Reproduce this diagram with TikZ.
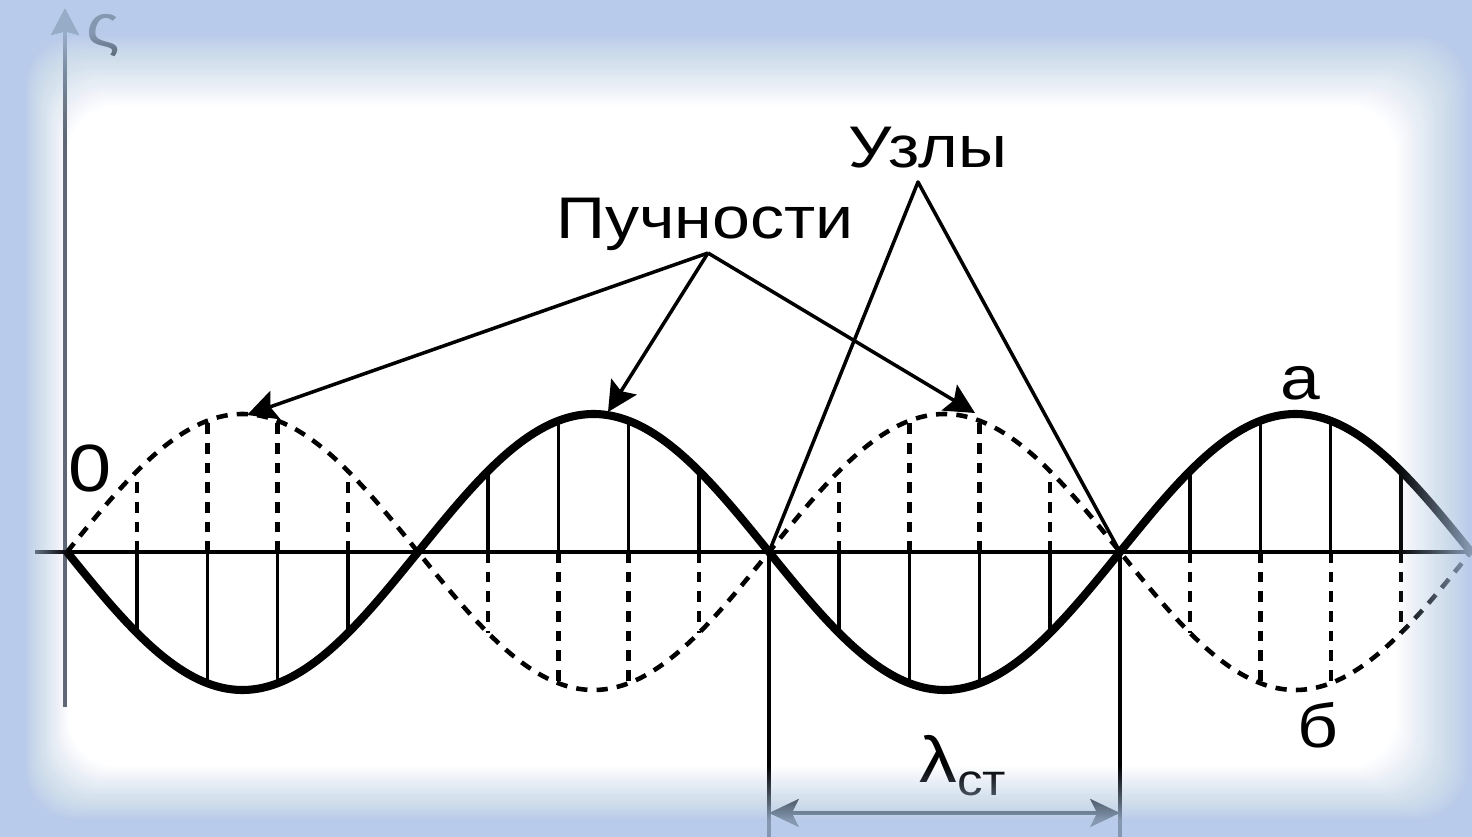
\documentclass[tikz,border=0pt]{standalone}
\usepackage{fontspec}
\setmainfont{Liberation Sans}[FakeStretch=1.16]
\usetikzlibrary{arrows.meta}
\definecolor{edgeblue}{RGB}{178,203,234}
\definecolor{axisgray}{RGB}{90,98,110}
\begin{document}
\begin{tikzpicture}[x=0.01cm,y=-0.01cm,line join=round,
  wave/.style={line width=2.3pt},
  ghost/.style={line width=1.3pt,dash pattern=on 3.2pt off 2.6pt},
  bar/.style={line width=1pt},
  dbar/.style={line width=1.2pt,dash pattern=on 3pt off 2.6pt},
  pointer/.style={line width=1pt,-{Stealth[length=8.5pt,width=8.5pt,inset=1.5pt]}},
  lbl/.style={inner sep=0pt,anchor=base,font=\fontsize{16.7}{20}\selectfont}]
 \useasboundingbox (0,0) rectangle (1472,837);
 \clip (0,0) rectangle (1472,837);
 \fill[white] (0,0) rectangle (1472,837);
 % axes
 \draw[axisgray,line width=1.2pt,-{Stealth[length=7.7pt,width=8pt,inset=1pt]}] (65,707) -- (65,8);
 \node[lbl,font=\fontsize{17}{20}\selectfont] (zeta) at (103,47) {ς};
 \draw[line width=1pt] (35,552) -- (1472,552);
 % bars under the two waves
 \foreach \i in {0,...,3} \foreach \k in {1,...,4} {
  \pgfmathsetmacro\ph{(0.2*\k)*180}
  \pgfmathsetmacro\xx{67+351*\i+70.2*\k}
  \pgfmathsetmacro\ya{552+138*sin(\ph+180*\i)}
  \pgfmathsetmacro\yb{552-138*sin(\ph+180*\i)}
  \draw[bar] (\xx,552) -- (\xx,\ya); \draw[dbar] (\xx,552) -- (\xx,\yb);
 }
 \draw[wave] plot[domain=67:1472,samples=241,smooth] (\x,{552+138*sin((\x-67)/351*180)});
 \draw[ghost] plot[domain=67:1472,samples=241,smooth] (\x,{552-138*sin((\x-67)/351*180)});
 % labels
 \node[lbl] (puch) at (705,239) {Пучности};
 \node[lbl] (uzly) at (928,168) {Узлы};
 \node[lbl,font=\fontsize{19}{20}\selectfont] (zero) at (90,492) {0};
 \node[lbl,font=\fontsize{17.5}{20}\selectfont] (sola) at (1300,400) {а};
 \node[lbl,font=\fontsize{17.5}{20}\selectfont] (solb) at (1318,748) {б};
 \node[lbl,font=\fontsize{18.5}{20}\selectfont] (lam) at (963,782) {λ\raisebox{-3.7pt}{\fontsize{12.5}{14}\selectfont ст}};
 % pointers
 \coordinate (pa) at (708,253); \coordinate (ua) at (918,182);
 \coordinate (top1) at (247,415); \coordinate (top2) at (608,412); \coordinate (top3) at (975,413);
 \coordinate (n1) at (769,552); \coordinate (n2) at (1120,552);
 \coordinate (f1) at (769,837); \coordinate (f2) at (1120,837);
 \coordinate (d1) at (769,813); \coordinate (d2) at (1120,813);
 \draw[pointer] (pa) -- (top1); \draw[pointer] (pa) -- (top2); \draw[pointer] (pa) -- (top3);
 \draw[bar] (n1) -- (ua) -- (n2);
 \draw[bar] (n1) -- (f1); \draw[bar] (n2) -- (f2);
 \draw[line width=0.9pt,{Stealth[length=8.5pt,width=8pt,inset=2pt]}-{Stealth[length=8.5pt,width=8pt,inset=2pt]}] (d1) -- (d2);
 % blue edge, faded inwards
 \foreach \i in {0,...,29} {
  \pgfmathsetmacro\ca{0.8*(30-\i)/30}
  \pgfmathsetmacro\cb{0.8*(29-\i)/30}
  \pgfmathsetmacro\al{1-(1-\ca)/(1-\cb)}
  \fill[edgeblue,opacity=\al,even odd rule] (0,0) rectangle (1472,837)
   [rounded corners=14pt] (25+43*\i/29,35+70*\i/29) rectangle (1469-72*\i/29,820-53*\i/29);
 }
\end{tikzpicture}
\end{document}
